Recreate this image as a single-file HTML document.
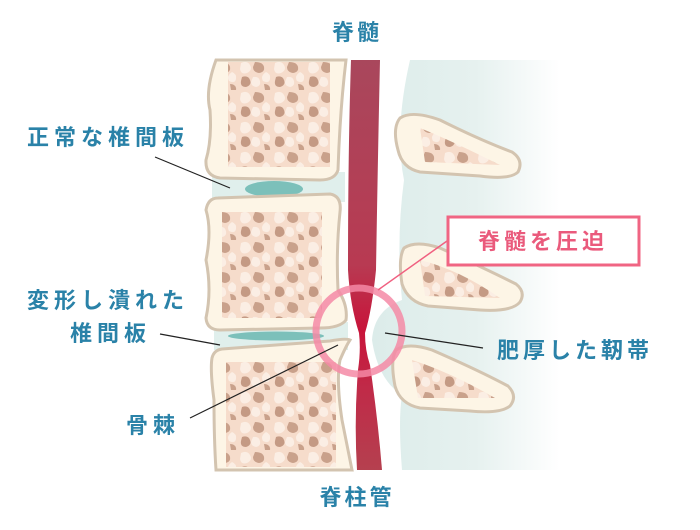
<!DOCTYPE html>
<html><head><meta charset="utf-8"><style>
html,body{margin:0;padding:0;background:#fff;}
svg{display:block}
text{font-family:"Liberation Sans","Noto Sans CJK JP",sans-serif;font-weight:bold;}
</style></head><body>
<svg width="700" height="530" viewBox="0 0 700 530" xmlns="http://www.w3.org/2000/svg">
<defs>
<linearGradient id="lig" x1="0" x2="1" y1="0" y2="0">
<stop offset="0" stop-color="#dcecea"/><stop offset="0.55" stop-color="#e6f1ef"/><stop offset="1" stop-color="#ffffff"/>
</linearGradient>
<linearGradient id="cord" x1="0" x2="0" y1="0" y2="1">
<stop offset="0" stop-color="#a9475c"/><stop offset="0.5" stop-color="#b83a52"/><stop offset="0.66" stop-color="#c8143a"/><stop offset="0.8" stop-color="#c02a48"/><stop offset="1" stop-color="#b5404f"/>
</linearGradient>
<pattern id="bone" width="34" height="30" patternUnits="userSpaceOnUse">
<rect width="34" height="30" fill="#f6dccb"/>
<path d="M3 3q6-3 9 2t-3 8q-6 2-7-4z" fill="#fbeee4"/>
<path d="M17 2q8 0 9 5t-5 6q-6-1-6-6z" fill="#c9a18b"/>
<path d="M28 12q5 2 4 7t-7 2q-3-5 3-9z" fill="#fbeee4"/>
<path d="M4 17q6-2 8 3t-4 7q-6 0-5-6z" fill="#c49a84"/>
<path d="M15 17q6-1 7 4t-4 6q-5-1-5-5z" fill="#fbeee4"/>
<path d="M26 24q5 0 6 4t-5 2z" fill="#c9a18b"/>
</pattern>
</defs>

<!-- ligament background band -->
<path d="M410 60 L560 60 L560 470 L402 470 Q398 420 402 395 Q378 380 372 340 Q374 310 402 300 Q396 240 404 180 Q394 130 410 60Z" fill="url(#lig)"/>

<!-- discs background -->
<path d="M212 172 L345 172 L345 202 L212 202Z" fill="#e0efec"/>
<path d="M214 322 L348 322 L348 350 L214 350Z" fill="#e0efec"/>
<ellipse cx="274" cy="189" rx="29" ry="8" fill="#7cc0ba"/>
<ellipse cx="276" cy="336" rx="48" ry="4.5" fill="#7cc0ba"/>

<!-- vertebrae -->
<path d="M216 60 L346 60 Q340 110 338 170 Q335 180 320 180 L220 178 Q205 176 206 160 Q212 140 210 110 Q205 90 216 60Z" fill="#fdf5e6" stroke="#d3c4b0" stroke-width="3"/>
<rect x="228" y="62" width="102" height="105" fill="url(#bone)"/>
<path d="M218 198 L330 194 Q342 196 340 212 Q336 250 338 290 Q348 305 346 320 Q340 328 320 328 L220 330 Q207 330 206 318 Q212 290 206 260 Q212 230 206 210 Q208 198 218 198Z" fill="#fdf5e6" stroke="#d3c4b0" stroke-width="3"/>
<rect x="222" y="212" width="100" height="106" fill="url(#bone)"/>
<path d="M222 349 L330 341 Q346 338 350 340 Q346 346 340 360 Q336 380 342 420 Q348 450 352 470 L216 470 Q214 440 214 400 Q210 370 212 358 Q214 350 222 349Z" fill="#fdf5e6" stroke="#d3c4b0" stroke-width="3"/>
<rect x="226" y="362" width="110" height="105" fill="url(#bone)"/>

<!-- spinous processes -->
<path d="M400 118 Q412 110 440 120 Q480 140 512 152 Q524 160 518 172 Q510 180 480 176 L420 172 Q402 168 398 150 Q392 128 400 118Z" fill="#fdf5e6" stroke="#d3c4b0" stroke-width="3"/>
<path d="M420 128 Q450 140 500 165 L425 162Z" fill="url(#bone)"/>
<path d="M404 248 Q416 240 440 248 Q484 268 516 284 Q526 292 520 302 Q512 312 480 310 L428 306 Q408 302 402 284 Q398 258 404 248Z" fill="#fdf5e6" stroke="#d3c4b0" stroke-width="3"/>
<path d="M420 260 Q460 270 500 298 L425 296Z" fill="url(#bone)"/>
<path d="M396 350 Q408 342 432 350 Q478 370 508 386 Q518 396 510 406 Q500 414 470 411 L420 408 Q400 404 395 386 Q390 360 396 350Z" fill="#fdf5e6" stroke="#d3c4b0" stroke-width="3"/>
<path d="M412 360 Q450 372 495 398 L418 398Z" fill="url(#bone)"/>

<!-- spinal cord -->
<path d="M351 60 L380 60 Q378 150 376 270 Q372 310 365 333 Q365 350 370 365 Q378 420 382 470 L357 470 Q354 420 358 370 Q361 350 359 333 Q350 305 348 270 Q348 150 351 60Z" fill="url(#cord)"/>

<!-- pink circle -->
<circle cx="359" cy="331" r="43" fill="none" stroke="#f48aa6" stroke-width="7" opacity="0.85"/>

<!-- leader lines -->
<g stroke="#222" stroke-width="1.2">
<line x1="155" y1="157" x2="230" y2="188"/>
<line x1="160" y1="334" x2="220" y2="345"/>
<line x1="190" y1="418" x2="338" y2="345"/>
<line x1="385" y1="333" x2="483" y2="348"/>
</g>
<line x1="378" y1="290" x2="447" y2="241" stroke="#f06080" stroke-width="1.5"/>
<rect x="448" y="217" width="191" height="48" fill="#fff" stroke="#f06583" stroke-width="3"/>

<!-- labels -->
<g fill="#2a82a8" font-size="22" letter-spacing="5">
<text x="357" y="40" text-anchor="middle" letter-spacing="3">脊髄</text>
<text x="357" y="505" text-anchor="middle" letter-spacing="3">脊柱管</text>
<text x="27" y="145">正常な椎間板</text>
<text x="27" y="308">変形し潰れた</text>
<text x="70" y="341">椎間板</text>
<text x="126" y="433">骨棘</text>
<text x="497" y="358" letter-spacing="4">肥厚した靭帯</text>
</g>
<text x="478" y="249" fill="#ea5a7c" font-size="22" letter-spacing="4">脊髄を圧迫</text>
</svg>
</body></html>
